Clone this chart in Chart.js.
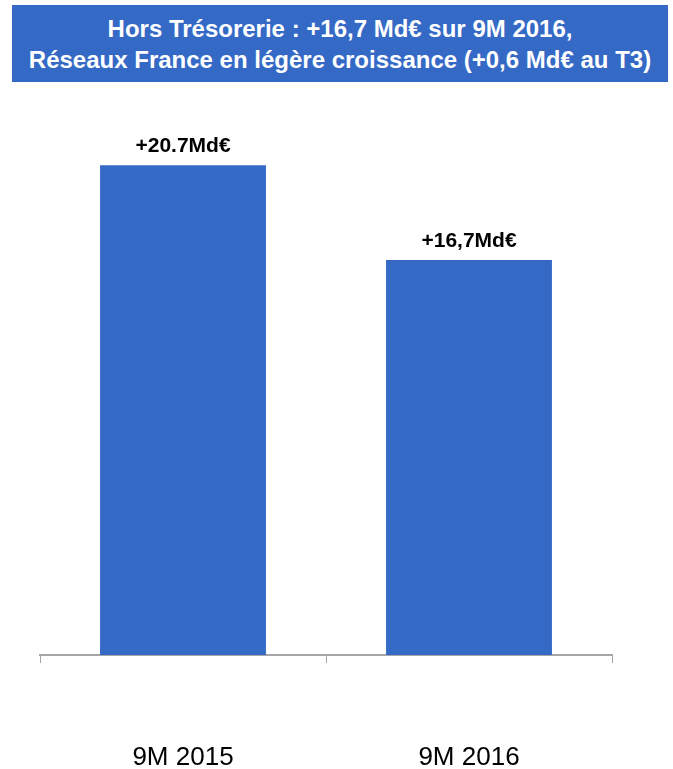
<!DOCTYPE html>
<html lang="fr">
<head>
  <meta charset="UTF-8" />
  <title>Hors Trésorerie</title>
  <script src="https://cdn.jsdelivr.net/npm/chart.js@4"></script>
  <style>
    html, body { margin: 0; padding: 0; background: #fff; }
    #wrap { position: relative; width: 673px; height: 769px; font-family: "Liberation Sans", Arial, sans-serif; }
    #title {
      position: absolute; left: 12px; top: 5px; width: 656px; height: 77px;
      background: #3469c6; color: #fff; font-weight: bold; font-size: 24px;
      line-height: 31px; text-align: center; display: flex; flex-direction: column; justify-content: center;
    }
    #chart { position: absolute; left: 0; top: 0; }
  </style>
</head>
<body>
  <div id="wrap">
    <canvas id="chart" width="673" height="769"></canvas>
    <div id="title">Hors Trésorerie : +16,7 Md€ sur 9M 2016,<br>Réseaux France en légère croissance (+0,6 Md€ au T3)</div>
  </div>

  <script>
    const categories = ['9M 2015', '9M 2016'];
    const values = [20.7, 16.7];
    const valueLabels = ['+20.7Md€', '+16,7Md€'];

    // etiquettes au-dessus des barres
    const topLabels = {
      id: 'topLabels',
      afterDatasetsDraw(chart) {
        const ctx = chart.ctx;
        const meta = chart.getDatasetMeta(0);
        ctx.save();
        ctx.font = 'bold 21px "Liberation Sans", Arial, sans-serif';
        ctx.fillStyle = '#000';
        ctx.textAlign = 'center';
        ctx.textBaseline = 'alphabetic';
        meta.data.forEach((bar, i) => {
          ctx.fillText(valueLabels[i], bar.x, bar.y - 13);
        });
        ctx.restore();
      }
    };

    new Chart(document.getElementById('chart'), {
      type: 'bar',
      data: {
        labels: categories,
        datasets: [{
          data: values,
          backgroundColor: '#3469c6',
          barPercentage: 0.58,
          categoryPercentage: 1
        }]
      },
      options: {
        responsive: false,
        animation: false,
        layout: { padding: { left: 40, right: 61, top: 99, bottom: 0 } },
        plugins: { legend: { display: false }, tooltip: { enabled: false } },
        scales: {
          x: {
            offset: true,
            afterFit(scale) { scale.height = 114; },
            grid: { offset: true, drawOnChartArea: false, drawTicks: true, tickLength: 8, color: '#a6a6a6' },
            border: { color: '#a6a6a6', width: 2 },
            ticks: { color: '#000', padding: 79, font: { family: '"Liberation Sans", Arial, sans-serif', size: 26 } }
          },
          y: {
            display: false,
            min: 0,
            max: 23.5
          }
        }
      },
      plugins: [topLabels]
    });
  </script>
</body>
</html>
